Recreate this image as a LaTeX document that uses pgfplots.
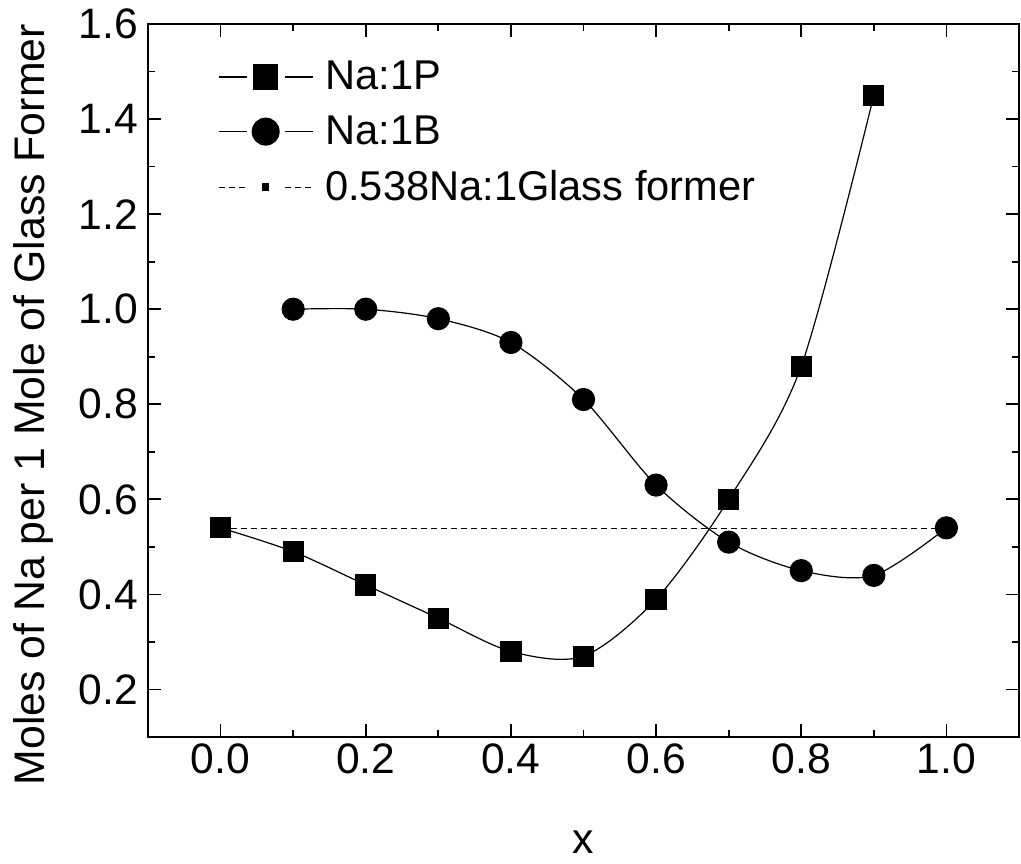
\documentclass[border=0pt]{standalone}
\usepackage{fontspec}
\setmainfont{Liberation Sans}
\usepackage{pgfplots}
\pgfplotsset{compat=1.18}

\newcommand{\chartfont}{\fontsize{20.8}{25}\selectfont}
\newcommand{\tickfont}{\fontsize{21.3}{25.5}\selectfont}
\newcommand{\labelfont}{\fontsize{21.4}{25.7}\selectfont}

% legend samples: line, gap, marker, gap, line
\pgfplotsset{
  gapped marker legend/.style={
    legend image code/.code={
      \draw[##1] (0pt,0pt) -- (14pt,0pt) (33pt,0pt) -- (47pt,0pt);
      \draw[##1, only marks, mark size=#1] plot coordinates {(23.5pt,0pt)};
    }},
  dashed dot legend/.style={
    legend image code/.code={
      \draw[##1] (0pt,0pt) -- (14pt,0pt) (33pt,0pt) -- (47pt,0pt);
      \draw[black, solid, only marks, mark=square*, mark size=1.6pt] plot coordinates {(23.5pt,0pt)};
    }},
}

\begin{document}
\begin{tikzpicture}
\begin{axis}[
  scale only axis,
  width=435.5pt, height=356.5pt,
  xmin=-0.1, xmax=1.1,
  ymin=0.1, ymax=1.6,
  xtick={0,0.2,0.4,0.6,0.8,1.0},
  ytick={0.2,0.4,0.6,0.8,1.0,1.2,1.4,1.6},
  minor x tick num=1, minor y tick num=1,
  tick align=inside,
  major tick length=6.5pt, minor tick length=3.5pt,
  axis line style={line width=1.3pt},
  every tick/.style={black, line width=0.9pt},
  /pgf/number format/fixed,
  /pgf/number format/fixed zerofill,
  /pgf/number format/precision=1,
  /pgf/number format/assume math mode=true,
  tick label style={font=\tickfont},
  yticklabel style={xshift=-1.5pt},
  label style={font=\labelfont},
  xlabel={x},
  ylabel={Moles of Na per 1 Mole of Glass Former},
  xlabel style={at={(axis description cs:0.5,-0.148)}, anchor=center},
  ylabel style={at={(axis description cs:-0.132,0.466)}, anchor=center},
  legend style={draw=none, fill=none, font=\chartfont,
    at={(axis description cs:0.080,0.954)}, anchor=north west,
    inner sep=0pt, row sep=7.5pt, column sep=4pt},
  legend cell align=left,
]

% Na:1P
\addplot[black, line width=0.6pt, smooth, tension=0.5,
  mark=square*, mark size=5pt, mark options={solid},
  gapped marker legend=6pt]
coordinates {
  (0.0,0.54) (0.1,0.49) (0.2,0.42) (0.3,0.35) (0.4,0.28)
  (0.5,0.27) (0.6,0.39) (0.7,0.60) (0.8,0.88) (0.9,1.45)
};

% Na:1B
\addplot[black, line width=0.6pt, smooth, tension=0.5,
  mark=*, mark size=5.5pt, mark options={solid},
  gapped marker legend=6.7pt]
coordinates {
  (0.1,1.00) (0.2,1.00) (0.3,0.98) (0.4,0.93) (0.5,0.81)
  (0.6,0.63) (0.7,0.51) (0.8,0.45) (0.9,0.44) (1.0,0.54)
};

% reference ratio 0.538 Na per glass former
\addplot[black, line width=0.5pt, dash pattern=on 3pt off 2pt,
  dashed dot legend]
coordinates {(0.0,0.538) (1.0,0.538)};

\legend{Na:1P, Na:1B, 0.538Na:1Glass former}
\end{axis}
\pgfresetboundingbox
\path (-74pt,-63pt) rectangle (436.5pt,368.5pt);
\end{tikzpicture}
\end{document}
